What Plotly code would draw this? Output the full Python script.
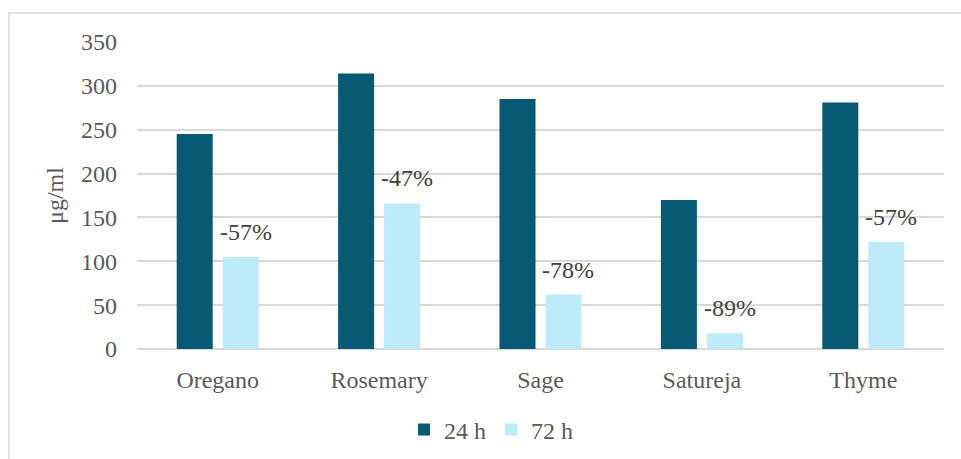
import plotly.graph_objects as go

# Extract concentration after 24 h and 72 h exposure
categories = ["Oregano", "Rosemary", "Sage", "Satureja", "Thyme"]
values_24h = [245, 314, 285, 170, 281]
values_72h = [105, 166, 62, 18, 122]
pct_change = ["-57%", "-47%", "-78%", "-89%", "-57%"]
y_ticks = [0, 50, 100, 150, 200, 250, 300, 350]

DARK = "#065A74"
LIGHT = "#BDEBFA"
TEXT = "#595959"
GRID = "#D9D9D9"
FONT = "Liberation Serif"
FS = 24

W, H = 961, 459
ML, MR, MT, MB = 137, 17, 42, 110
BARGAP, GROUPGAP = 0.43, 0.217

fig = go.Figure()
fig.add_trace(go.Bar(name="24 h", x=categories, y=values_24h, marker_color=DARK,
                     marker_line_width=0))
fig.add_trace(go.Bar(name="72 h", x=categories, y=values_72h, marker_color=LIGHT,
                     marker_line_width=0))

# percent-change labels sit above the 72 h bar of each group
plot_w = W - ML - MR
cat_w = plot_w / len(categories)
slot = cat_w * (1 - BARGAP) / 2
for cat, v, lab in zip(categories, values_72h, pct_change):
    fig.add_annotation(x=cat, y=v, text=lab, showarrow=False, xref="x", yref="y",
                       xshift=slot / 2 + 5, yshift=10, yanchor="bottom",
                       font=dict(family=FONT, size=FS, color="#404040"))

# light outer frame around the chart
fig.add_shape(type="rect", xref="paper", yref="paper",
              x0=(9 - ML) / plot_w, x1=(990 - ML) / plot_w,
              y0=(H - MB - 480) / (H - MT - MB), y1=(H - MB - 13) / (H - MT - MB),
              line=dict(color=GRID, width=1.5), fillcolor="rgba(0,0,0,0)", layer="below")

fig.update_layout(
    width=W, height=H,
    margin=dict(l=ML, r=MR, t=MT, b=MB, autoexpand=False),
    paper_bgcolor="white", plot_bgcolor="white",
    barmode="group", bargap=BARGAP, bargroupgap=GROUPGAP,
    font=dict(family=FONT, size=FS, color=TEXT),
    showlegend=True,
    legend=dict(orientation="h", xref="container", yref="container",
                x=0.511, xanchor="center", y=1 - 430 / H, yanchor="middle",
                font=dict(family=FONT, size=FS, color=TEXT),
                itemwidth=30, tracegroupgap=0),
)
fig.update_yaxes(range=[0, 350], tickvals=y_ticks, showgrid=True, gridcolor=GRID,
                 gridwidth=1.5, zeroline=True, zerolinecolor=GRID, zerolinewidth=1.5,
                 showline=False, ticks="", ticklabelstandoff=19, automargin=False,
                 title=dict(text="μg/ml", font=dict(family=FONT, size=FS, color=TEXT),
                            standoff=10))
fig.update_xaxes(showline=False, ticks="", ticklabelstandoff=14, automargin=False)

fig.write_html("out.html")
